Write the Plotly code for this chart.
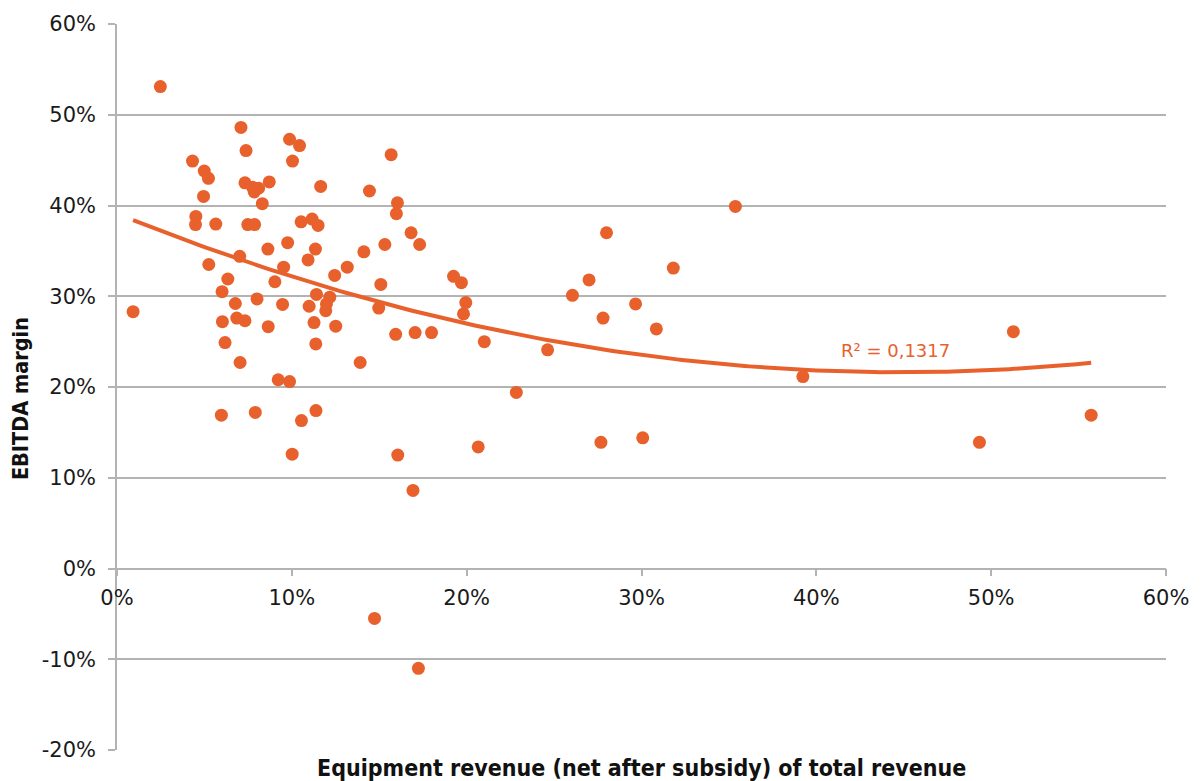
import numpy as np
import plotly.graph_objects as go

# Equipment revenue share (% of total revenue) per operator
equipment_share = [
    0.92, 2.48, 4.32, 4.51, 4.49, 4.99, 5.23, 4.95, 5.25, 5.65,
    6.01, 6.03, 5.97, 6.18, 6.34, 6.77, 6.85, 7.02, 7.04, 7.09,
    7.32, 7.38, 7.32, 7.48, 7.76, 7.85, 7.87, 8.10, 8.01, 7.91,
    8.31, 8.63, 8.65, 8.71, 9.03, 9.22, 9.47, 9.53, 9.76, 9.87,
    9.87, 10.04, 10.02, 10.44, 10.55, 10.53, 10.93, 10.99, 11.16, 11.27,
    11.35, 11.37, 11.38, 11.50, 11.41, 11.65, 11.94, 11.98, 12.17, 12.51,
    12.45, 13.17, 13.91, 14.12, 14.44, 14.73, 14.97, 15.09, 15.32, 15.68,
    15.94, 15.98, 16.04, 16.06, 16.82, 16.93, 17.05, 17.31, 17.24, 17.99,
    19.25, 19.70, 19.82, 19.95, 20.66, 21.01, 22.84, 24.63, 26.05, 27.00,
    27.68, 27.80, 28.00, 29.66, 30.07, 30.85, 31.82, 35.37, 39.23, 49.33,
    51.27, 55.72,
]

# EBITDA margin (%) per operator
ebitda_margin = [
    28.3, 53.1, 44.9, 38.8, 37.9, 43.8, 43.0, 41.0, 33.5, 37.95,
    30.5, 27.2, 16.9, 24.9, 31.9, 29.2, 27.6, 34.4, 22.7, 48.6,
    42.5, 46.05, 27.3, 37.9, 42.0, 41.5, 37.9, 41.9, 29.7, 17.2,
    40.2, 35.2, 26.65, 42.6, 31.6, 20.8, 29.1, 33.2, 35.9, 47.3,
    20.6, 44.9, 12.6, 46.6, 16.3, 38.2, 34.0, 28.9, 38.5, 27.1,
    35.2, 24.75, 17.4, 37.8, 30.2, 42.1, 28.4, 29.15, 29.9, 26.7,
    32.3, 33.2, 22.7, 34.9, 41.6, -5.5, 28.7, 31.3, 35.7, 45.6,
    25.8, 39.1, 40.3, 12.5, 37.0, 8.6, 26.0, 35.7, -11.0, 26.0,
    32.2, 31.5, 28.05, 29.3, 13.4, 25.0, 19.4, 24.1, 30.1, 31.8,
    13.9, 27.6, 37.0, 29.15, 14.4, 26.4, 33.1, 39.9, 21.15, 13.9,
    26.1, 16.9,
]

# Axis ticks
x_tick_values = [0, 10, 20, 30, 40, 50, 60]
x_tick_labels = ["0%", "10%", "20%", "30%", "40%", "50%", "60%"]
y_tick_values = [-20, -10, 0, 10, 20, 30, 40, 50, 60]
y_tick_labels = ["-20%", "-10%", "0%", "10%", "20%", "30%", "40%", "50%", "60%"]

r2_label = "R² = 0,1317"
x_title = "Equipment revenue (net after subsidy) of total revenue"
y_title = "EBITDA margin"

ORANGE = "#E8612C"
GRID = "#B3B3B3"
FONT = "DejaVu Sans"
TITLE_FONT = "DejaVu Sans Condensed"

x = np.array(equipment_share)
y = np.array(ebitda_margin)

# Second-order polynomial trend line
coef = np.polyfit(x, y, 2)
trend_x = np.linspace(x.min(), x.max(), 200)
trend_y = np.polyval(coef, trend_x)

fig = go.Figure()
fig.add_trace(go.Scatter(
    x=x, y=y, mode="markers",
    marker=dict(size=13, color=ORANGE, line=dict(width=0)),
    hoverinfo="x+y", showlegend=False,
))
fig.add_trace(go.Scatter(
    x=trend_x, y=trend_y, mode="lines",
    line=dict(color=ORANGE, width=4),
    hoverinfo="skip", showlegend=False,
))

fig.update_layout(
    width=1201, height=781,
    margin=dict(l=117, r=31, t=23, b=31),
    paper_bgcolor="white", plot_bgcolor="white",
    font=dict(family=FONT, size=21, color="#1A1A1A"),
    xaxis=dict(
        range=[0, 60], tickvals=x_tick_values, ticktext=x_tick_labels,
        showgrid=False, zeroline=False,
        anchor="free", position=0.25,
        showline=True, linecolor=GRID, linewidth=1.5,
        ticks="outside", ticklen=7, tickcolor=GRID, tickwidth=1.5,
        ticklabelstandoff=4,
    ),
    yaxis=dict(
        range=[-20, 60], tickvals=y_tick_values, ticktext=y_tick_labels,
        showgrid=True, gridcolor=GRID, gridwidth=1.5, zeroline=False,
        showline=True, linecolor=GRID, linewidth=1.5,
        ticks="outside", ticklen=7, tickcolor=GRID, tickwidth=1.5,
        ticklabelstandoff=8,
    ),
    annotations=[
        dict(text=r2_label, x=44.5, y=24.0, xref="x", yref="y",
             showarrow=False, font=dict(family=FONT, size=18, color=ORANGE)),
        dict(text=f"<b>{x_title}</b>", x=0.5, y=-0.025, xref="paper", yref="paper",
             xanchor="center", yanchor="middle", showarrow=False,
             font=dict(family=TITLE_FONT, size=23, color="#111111")),
        dict(text=f"<b>{y_title}</b>", x=-0.092, y=0.484, xref="paper", yref="paper",
             xanchor="center", yanchor="middle", textangle=-90, showarrow=False,
             font=dict(family=TITLE_FONT, size=21.5, color="#111111")),
    ],
)

fig.write_html("out.html")
